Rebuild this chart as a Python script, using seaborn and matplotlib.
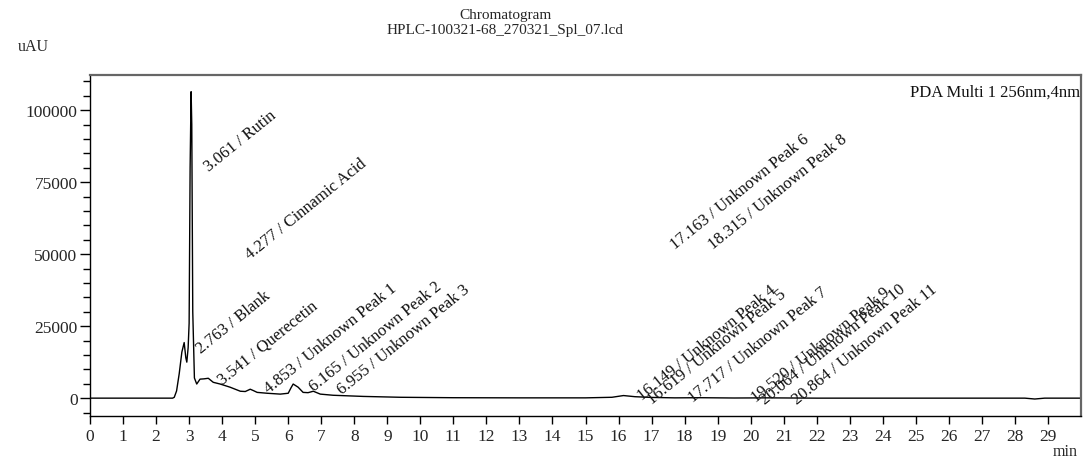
import numpy as np
import pandas as pd
import matplotlib
matplotlib.use("Agg")
import matplotlib.pyplot as plt
from matplotlib.ticker import MultipleLocator
import seaborn as sns

# ---- data ----
time_min = [0.0, 2.50, 2.55, 2.62, 2.70, 2.78, 2.85, 2.90, 2.93, 2.97, 3.00, 3.03,
            3.06, 3.08, 3.11, 3.16, 3.23, 3.33, 3.45, 3.58, 3.73, 3.94, 4.24, 4.55,
            4.70, 4.85, 4.95, 5.06, 5.36, 5.76, 6.00, 6.08, 6.15, 6.30, 6.45, 6.60,
            6.76, 6.97, 7.36, 8.27, 9.40, 11.0, 13.0, 15.0, 15.8, 16.15, 16.5, 17.0,
            17.7, 18.5, 19.5, 20.5, 22.0, 25.0, 28.3, 28.6, 28.9, 30.0]
signal_uau = [0, 0, 300, 2500, 8500, 16000, 19300, 14000, 12500, 17500, 26000, 80000,
              106400, 95000, 30000, 7000, 4900, 6600, 6700, 6900, 5500, 4900, 3800, 2400,
              2300, 3100, 2600, 2000, 1700, 1400, 1700, 3500, 4900, 3800, 2000, 1900,
              2400, 1400, 1000, 600, 300, 150, 100, 100, 300, 900, 500, 250,
              100, 150, 50, 100, 0, 0, 0, -300, 0, 0]

peak_labels = ["3.061 / Rutin", "4.277 / Cinnamic Acid", "2.763 / Blank",
               "3.541 / Querecetin", "4.853 / Unknown Peak 1", "6.165 / Unknown Peak 2",
               "6.955 / Unknown Peak 3", "17.163 / Unknown Peak 6", "18.315 / Unknown Peak 8",
               "16.149 / Unknown Peak 4", "16.619 / Unknown Peak 5", "17.717 / Unknown Peak 7",
               "19.520 / Unknown Peak 9", "20.064 / Unknown Peak 10", "20.864 / Unknown Peak 11"]
label_x = [3.68, 4.92, 3.45, 4.08, 5.50, 6.87, 7.70, 17.80, 18.95,
           16.80, 17.08, 18.32, 20.25, 20.50, 21.47]
label_y = [77800, 47200, 14600, 3800, 700, 1400, 350, 50700, 50700,
           -1800, -3000, -2300, -2300, -3200, -3200]

df = pd.DataFrame({"t": time_min, "y": signal_uau})

sns.set_theme(style="white")
plt.rcParams["font.family"] = ["Liberation Serif", "DejaVu Serif"]

fig = plt.figure(figsize=(10.86, 4.60), dpi=100)
ax = fig.add_axes([0.0829, 0.0941, 0.9125, 0.7413])

sns.lineplot(data=df, x="t", y="y", ax=ax, color="black", linewidth=1.0,
             estimator=None, sort=False)

ax.set_xlim(0, 30)
ax.set_ylim(-6100, 112300)
ax.set_xlabel("")
ax.set_ylabel("")

ax.set_xticks(np.arange(0, 30, 1))
ax.set_xticklabels([str(i) for i in range(30)])
ax.yaxis.set_major_locator(MultipleLocator(25000))
ax.yaxis.set_minor_locator(MultipleLocator(5000))
ax.tick_params(axis="x", which="major", direction="out", length=6, width=1,
               color="black", labelsize=12.5, pad=3, bottom=True)
ax.tick_params(axis="y", which="major", direction="out", length=7, width=1,
               color="black", labelsize=12.5, pad=2, left=True)
ax.tick_params(axis="y", which="minor", direction="out", length=5, width=1,
               color="black", left=True)

for s in ["top", "right"]:
    ax.spines[s].set_color("#666666")
    ax.spines[s].set_linewidth(1.6)
for s in ["left", "bottom"]:
    ax.spines[s].set_color("black")
    ax.spines[s].set_linewidth(1.0)

for lab, lx, ly in zip(peak_labels, label_x, label_y):
    ax.text(lx, ly, lab, rotation=39, rotation_mode="anchor", ha="left",
            va="bottom", fontsize=12, color="#111111")

ax.text(0.999, 0.975, "PDA Multi 1 256nm,4nm", transform=ax.transAxes,
        ha="right", va="top", fontsize=12, color="#111111")

fig.text(505 / 1086, 1 - 15 / 460, "Chromatogram", ha="center", va="center",
         fontsize=11)
fig.text(505 / 1086, 1 - 31 / 460, "HPLC-100321-68_270321_Spl_07.lcd",
         ha="center", va="center", fontsize=11)
fig.text(18 / 1086, 1 - 47 / 460, "uAU", ha="left", va="center", fontsize=11.5)
fig.text(1078 / 1086, 1 - 452 / 460, "min", ha="right", va="center", fontsize=11.5)

fig.savefig("out.png", dpi=100, facecolor="white")
